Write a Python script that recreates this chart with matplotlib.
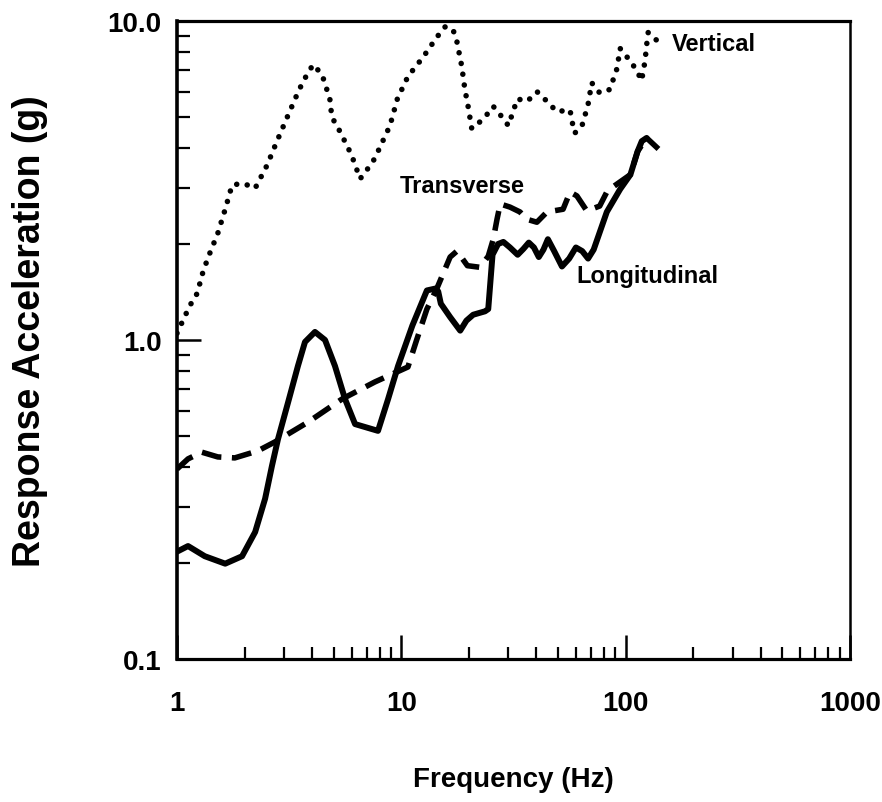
import matplotlib
matplotlib.use("Agg")
import matplotlib.pyplot as plt
from matplotlib.ticker import FixedLocator, NullFormatter

plt.rcParams['font.family'] = ['Liberation Sans', 'DejaVu Sans']

# ---- data ----
long_f = [1.0, 1.12, 1.33, 1.64, 1.95, 2.23, 2.47, 2.65, 2.82, 3.13, 3.46, 3.72, 4.12,
          4.57, 5.06, 5.61, 6.22, 7.87, 8.73, 9.67, 11.2, 13.0, 14.2, 14.6, 15.0,
          16.5, 18.3, 19.5, 20.9, 23.6, 24.4, 25.5, 27.0, 28.5, 30.5, 33.0, 35.0,
          37.0, 39.0, 41.0, 43.0, 45.0, 48.0, 52.0, 56.0, 60.0, 64.0, 68.0, 72.0,
          82.4, 94.5, 105.0, 113.0, 118.0, 124.0]
long_a = [0.217, 0.226, 0.210, 0.199, 0.210, 0.250, 0.318, 0.403, 0.489, 0.639, 0.829, 0.986, 1.06,
          1.0, 0.829, 0.653, 0.545, 0.519, 0.653, 0.829, 1.11, 1.43, 1.45, 1.42, 1.30,
          1.18, 1.07, 1.15, 1.20, 1.23, 1.25, 1.85, 2.0, 2.03, 1.95, 1.85, 1.93,
          2.02, 1.95, 1.82, 1.92, 2.07, 1.90, 1.70, 1.80, 1.95, 1.90, 1.80, 1.92,
          2.52, 2.97, 3.3, 3.9, 4.2, 4.3]

trans_f = [1.0, 1.12, 1.29, 1.52, 1.81, 2.29, 2.73, 3.84, 5.44, 7.63, 10.7, 11.7, 13.0,
           14.4, 16.5, 17.7, 19.7, 22.4, 24.4, 25.7, 26.7, 27.6, 30.5, 33.8, 36.3,
           40.2, 44.6, 52.6, 56.5, 60.6, 67.1, 76.6, 82.4, 87.8, 105.0, 113.0,
           124.0, 140.0]
trans_a = [0.394, 0.424, 0.445, 0.43, 0.427, 0.449, 0.479, 0.553, 0.653, 0.739, 0.823, 1.0, 1.25,
           1.45, 1.82, 1.90, 1.71, 1.69, 1.83, 2.07, 2.39, 2.67, 2.61, 2.52, 2.39,
           2.34, 2.52, 2.57, 2.91, 2.83, 2.54, 2.63, 2.91, 3.02, 3.3, 3.9,
           4.3, 3.97]

vert_f = [1.0, 1.14, 1.23, 1.31, 1.40, 1.52, 1.64, 1.76, 1.97, 2.23, 2.52, 2.79, 3.09,
          3.42, 3.65, 4.04, 4.43, 4.8, 4.9, 5.33, 6.0, 6.55, 7.1, 7.6, 8.9, 9.6, 10.7,
          12.5, 14.4, 15.7, 17.0, 17.7, 18.6, 19.2, 19.8, 20.6, 21.5, 23.6, 25.7,
          27.5, 30.0, 32.9, 36.4, 40.3, 44.6, 49.3, 56.5, 57.6, 59.3, 63.9, 67.9,
          70.6, 76.6, 85.0, 91.5, 94.5, 104.7, 112.0, 117.8, 122.0, 124.0, 126.0, 140.0]
vert_a = [1.05, 1.28, 1.4, 1.65, 1.87, 2.16, 2.57, 3.06, 3.1, 2.99, 3.53, 4.2, 4.97,
          5.86, 6.47, 7.3, 6.8, 5.7, 5.0, 4.5, 3.8, 3.2, 3.45, 3.7, 4.7, 5.7, 6.7,
          7.7, 8.9, 9.6, 9.4, 8.6, 7.2, 6.1, 5.45, 4.6, 4.7, 5.0, 5.4,
          5.1, 4.7, 5.7, 5.6, 6.0, 5.6, 5.2, 5.26, 4.86, 4.45, 4.7, 5.45,
          6.4, 5.95, 6.1, 7.1, 8.2, 7.5, 7.0, 6.5, 7.5, 8.4, 9.2, 8.6]

x_ticks = [1, 10, 100, 1000]
x_tick_labels = ["1", "10", "100", "1000"]
y_ticks = [0.1, 1.0, 10.0]
y_tick_labels = ["0.1", "1.0", "10.0"]

labels = ["Vertical", "Transverse", "Longitudinal"]
label_pos = [(160, 8.53), (9.8, 3.06), (60.5, 1.59)]

# ---- figure ----
fig = plt.figure(figsize=(8.82, 8.03), dpi=100)
ax = fig.add_axes([177/882, 1-660/803, 673/882, 638/803])

ax.plot(long_f, long_a, color='black', lw=4.3, solid_joinstyle='round',
        solid_capstyle='round')
ax.plot(trans_f, trans_a, color='black', lw=4.0, dashes=(3.6, 1.9),
        dash_capstyle='butt', dash_joinstyle='round')
ax.plot(vert_f, vert_a, color='black', lw=4.0, linestyle=(0, (0.01, 1.95)),
        dash_capstyle='round')

ax.set_xscale('log')
ax.set_yscale('log')
ax.set_xlim(1, 1000)
ax.set_ylim(0.1, 10)

ax.xaxis.set_major_locator(FixedLocator(x_ticks))
ax.set_xticklabels(x_tick_labels)
ax.yaxis.set_major_locator(FixedLocator(y_ticks))
ax.set_yticklabels(y_tick_labels)
minor_x = [m * 10**e for e in range(0, 3) for m in range(2, 10)]
minor_y = [m * 10**e for e in range(-1, 1) for m in range(2, 10)]
ax.xaxis.set_minor_locator(FixedLocator(minor_x))
ax.yaxis.set_minor_locator(FixedLocator(minor_y))
ax.xaxis.set_minor_formatter(NullFormatter())
ax.yaxis.set_minor_formatter(NullFormatter())

ax.tick_params(which='major', direction='in', length=17, width=1.8,
               labelsize=20, top=False, right=False)
ax.tick_params(which='minor', direction='in', length=9, width=1.6,
               top=False, right=False)
ax.tick_params(axis='x', which='major', pad=22)
ax.tick_params(axis='y', which='major', pad=11)
for lab in ax.get_xticklabels() + ax.get_yticklabels():
    lab.set_fontweight('bold')

for side, w in [('left', 2.6), ('bottom', 2.3), ('top', 2.3), ('right', 1.8)]:
    ax.spines[side].set_linewidth(w)

ax.set_xlabel("Frequency (Hz)", fontsize=20, fontweight='bold')
ax.xaxis.set_label_coords(0.5, -0.188)
ax.xaxis.label.set_va('center')
ax.set_ylabel("Response Acceleration (g)", fontsize=27, fontweight='bold')
ax.yaxis.set_label_coords(-0.218, 0.515)
ax.yaxis.label.set_va('center')
ax.yaxis.label.set_ha('center')

for text, (fx, fy) in zip(labels, label_pos):
    ax.text(fx, fy, text, fontsize=17, fontweight='bold', ha='left', va='center')

fig.savefig("out.png", dpi=100)
